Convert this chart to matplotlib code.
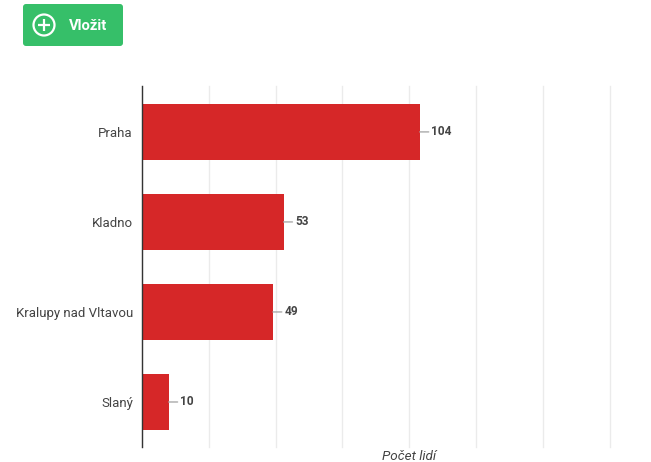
import matplotlib
matplotlib.use('Agg')
import matplotlib.pyplot as plt
from matplotlib.patches import FancyBboxPatch, Circle

# data
cities = ["Praha", "Kladno", "Kralupy nad Vltavou", "Slaný"]
people = [104, 53, 49, 10]
x_ticks = [0, 25, 50, 75, 100, 125, 150, 175]
x_title = "Počet lidí"
button_text = "Vložit"

W, H = 651, 462
plt.rcParams['font.family'] = ['Roboto', 'DejaVu Sans']

fig = plt.figure(figsize=(W / 100, H / 100), dpi=100)

# overlay in pixel coordinates for the button above the chart
top = fig.add_axes([0, 0, 1, 1])
top.set_xlim(0, W)
top.set_ylim(H, 0)
top.axis('off')
top.add_patch(FancyBboxPatch((25, 6), 96, 38, boxstyle='round,pad=2,rounding_size=3',
                             fc='#36bf69', ec='none'))
top.add_patch(Circle((44, 25), 10.5, fc='none', ec='white', lw=1.6))
top.plot([38, 50], [25, 25], color='white', lw=1.6, solid_capstyle='butt')
top.plot([44, 44], [19, 31], color='white', lw=1.6, solid_capstyle='butt')
top.text(69, 26, button_text, color='white', fontsize=10.6, fontweight='bold',
         ha='left', va='center')

# main chart
left, right, y_top, y_bottom = 142, 609.5, 86, 447
ax = fig.add_axes([left / W, 1 - y_bottom / H, (right - left) / W, (y_bottom - y_top) / H])
ax.patch.set_alpha(0)
y = range(len(cities))
ax.barh(y, people, height=0.62, color='#d62728', zorder=2)
ax.set_xlim(0, 175)
ax.set_ylim(3.5, -0.51)

ax.set_xticks(x_ticks)
ax.set_xticklabels([])
ax.set_yticks(list(y))
ax.set_yticklabels(cities, fontsize=9.5, color='#444444')
ax.tick_params(length=0, pad=6.5)
ax.grid(axis='x', color='#ebebeb', lw=1, zorder=0, clip_on=False)
ax.set_axisbelow(True)

for s in ['top', 'right', 'bottom']:
    ax.spines[s].set_visible(False)
ax.spines['left'].set_color('#333333')
ax.spines['left'].set_linewidth(1)
ax.spines['left'].set_zorder(3)

# value labels with the short leader line
for i, v in enumerate(people):
    ax.annotate(str(v), xy=(v, i), xytext=(8.4, 0), textcoords='offset points',
                fontsize=8.6, fontweight='bold', color='#444444', ha='left', va='center',
                arrowprops=dict(arrowstyle='-', color='#aaaaaa', lw=1, shrinkA=0, shrinkB=0))

top.text(409, 457, x_title, fontsize=9.7, style='italic', color='#444444', ha='center', va='center')

fig.savefig('out.png', dpi=100)
